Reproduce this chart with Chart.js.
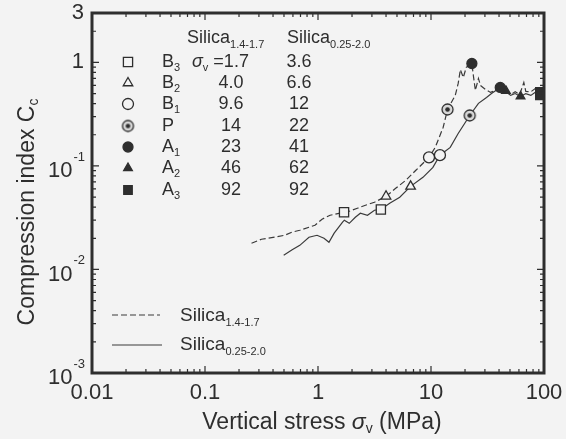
<!DOCTYPE html>
<html>
<head>
<meta charset="utf-8">
<title>Compression index</title>
<script src="https://cdn.jsdelivr.net/npm/chart.js"></script>
<style>
  body { margin: 0; background: #f3f3f3; }
  #wrap { width: 566px; height: 439px; }
</style>
</head>
<body>
<div id="wrap"><canvas id="myChart" width="566" height="439"></canvas></div>
<script>
// Silica 1.4-1.7 (dashed curve)
const dashStress = [0.258, 0.316, 0.413, 0.507, 0.586, 0.69, 0.832, 0.94, 1.086, 1.28, 1.7, 1.89, 2.23, 2.63, 3.16, 4.0, 4.87, 5.98, 7.35, 9.6, 10.9, 12.8, 14, 16.4, 17.4, 18.2, 19.3, 20.5, 23, 23.7, 24.7, 26.3, 27.4, 30.3, 33.6, 37.3, 46, 50.7, 55.6, 61, 66.3, 69, 76.5, 84.9, 92, 100];
const dashCc = [0.0179, 0.0196, 0.0205, 0.0214, 0.0229, 0.0239, 0.0256, 0.0267, 0.0306, 0.0334, 0.0357, 0.0365, 0.039, 0.0417, 0.0446, 0.0509, 0.0608, 0.0726, 0.0908, 0.121, 0.151, 0.235, 0.351, 0.48, 0.627, 0.853, 0.714, 0.893, 0.976, 0.748, 0.536, 0.70, 0.598, 0.548, 0.513, 0.536, 0.53, 0.49, 0.52, 0.49, 0.64, 0.525, 0.52, 0.565, 0.52, 0.53];

// Silica 0.25-2.0 (solid curve)
const solidStress = [0.497, 0.586, 0.69, 0.832, 0.98, 1.13, 1.25, 1.39, 1.65, 1.71, 1.89, 2.14, 2.37, 2.74, 3.16, 3.6, 4.31, 5.29, 6.6, 8.49, 10.4, 12, 14.8, 17.4, 20.1, 22, 26.3, 31.0, 34.3, 41, 46, 50.7, 55.6, 62, 69, 76.5, 85, 92, 100];
const solidCc = [0.0137, 0.0154, 0.0171, 0.0205, 0.0214, 0.0200, 0.0183, 0.0224, 0.0286, 0.0299, 0.0279, 0.0319, 0.0349, 0.0334, 0.0373, 0.038, 0.0435, 0.0498, 0.0635, 0.0776, 0.0968, 0.127, 0.151, 0.206, 0.263, 0.307, 0.402, 0.459, 0.501, 0.573, 0.52, 0.48, 0.50, 0.469, 0.50, 0.48, 0.52, 0.48, 0.50];

// sampling points B3 .. A3
const pointLetters = ['B', 'B', 'B', 'P', 'A', 'A', 'A'];
const pointSubs = ['3', '2', '1', '', '1', '2', '3'];
const markStressDash = [1.7, 4.0, 9.6, 14, 23, 46, 92];
const markCcDash = [0.0357, 0.0509, 0.121, 0.351, 0.976, 0.53, 0.52];
const markStressSolid = [3.6, 6.6, 12, 22, 41, 62, 92];
const markCcSolid = [0.038, 0.0635, 0.127, 0.307, 0.573, 0.469, 0.48];
const col1Labels = ['1.7', '4.0', '9.6', '14', '23', '46', '92'];
const col2Labels = ['3.6', '6.6', '12', '22', '41', '62', '92'];

const xTicks = [0.01, 0.1, 1, 10, 100];
const xTickLabels = ['0.01', '0.1', '1', '10', '100'];
const yTicks = [0.001, 0.01, 0.1, 1, 3];
const yTickLabels = [['10', '-3'], ['10', '-2'], ['10', '-1'], ['1', ''], ['3', '']];

const ink = '#2e2e2e';
const FF = '"Liberation Sans", Arial, sans-serif';

// bullseye marker for P
function bullseye(r) {
  const c = document.createElement('canvas');
  const s = 2 * r + 4;
  c.width = s; c.height = s;
  const g = c.getContext('2d');
  g.beginPath(); g.arc(s / 2, s / 2, r, 0, Math.PI * 2);
  g.fillStyle = '#d8d8d8'; g.fill();
  g.lineWidth = 1.3; g.strokeStyle = ink; g.stroke();
  g.beginPath(); g.arc(s / 2, s / 2, r * 0.42, 0, Math.PI * 2);
  g.fillStyle = ink; g.fill();
  return c;
}
const markStyles = [
  { style: 'rect', fill: false, r: 6.5 },
  { style: 'triangle', fill: false, r: 5.5 },
  { style: 'circle', fill: false, r: 5.5 },
  { style: bullseye(5.5), fill: false, r: 5.5 },
  { style: 'circle', fill: true, r: 5 },
  { style: 'triangle', fill: true, r: 5 },
  { style: 'rect', fill: true, r: 6 }
];

function toPts(xs, ys) { return xs.map((v, i) => ({ x: v, y: ys[i] })); }

const datasets = [];
markStyles.forEach((m, i) => {
  datasets.push({
    type: 'scatter',
    data: [{ x: markStressDash[i], y: markCcDash[i] }, { x: markStressSolid[i], y: markCcSolid[i] }],
    pointStyle: m.style,
    pointRadius: m.r,
    pointBorderWidth: 1.3,
    pointBorderColor: ink,
    pointBackgroundColor: m.fill ? ink : '#f3f3f3',
    order: 0
  });
});
datasets.push({
  data: toPts(dashStress, dashCc),
  borderColor: '#3a3a3a', borderWidth: 1.2, borderDash: [6, 3],
  pointRadius: 0, tension: 0, order: 1
});
datasets.push({
  data: toPts(solidStress, solidCc),
  borderColor: '#3a3a3a', borderWidth: 1.2,
  pointRadius: 0, tension: 0, order: 1
});

// draw text made of pieces (normal / sub / superscript)
function run(ctx, parts, x, y, align) {
  let w = 0;
  parts.forEach(p => { ctx.font = p.f; p.w = ctx.measureText(p.t).width; w += p.w; });
  let cx = align === 'center' ? x - w / 2 : align === 'right' ? x - w : x;
  ctx.textAlign = 'left';
  ctx.textBaseline = 'middle';
  parts.forEach(p => { ctx.font = p.f; ctx.fillText(p.t, cx, y + (p.dy || 0)); cx += p.w; });
}

const axisDeco = {
  id: 'axisDeco',
  beforeDraw(chart) {
    const ctx = chart.ctx;
    ctx.save();
    ctx.fillStyle = '#f3f3f3';
    ctx.fillRect(0, 0, chart.width, chart.height);
    ctx.restore();
  },
  afterDraw(chart) {
    const { ctx, chartArea: a, scales: { x, y } } = chart;
    ctx.save();
    ctx.strokeStyle = ink;
    ctx.fillStyle = ink;
    ctx.lineWidth = 1.2;
    // minor / major ticks, pointing inward on all sides
    ctx.beginPath();
    [0.01, 0.1, 1, 10].forEach(d => {
      for (let k = 1; k < 10; k++) {
        const px = x.getPixelForValue(d * k);
        const len = k === 1 ? 7 : 4;
        ctx.moveTo(px, a.bottom); ctx.lineTo(px, a.bottom - len);
        ctx.moveTo(px, a.top); ctx.lineTo(px, a.top + len);
      }
    });
    [0.001, 0.01, 0.1, 1].forEach(d => {
      for (let k = 1; k < 10; k++) {
        if (d * k > 3) break;
        const py = y.getPixelForValue(d * k);
        const len = k === 1 ? 7 : 4;
        ctx.moveTo(a.left, py); ctx.lineTo(a.left + len, py);
        ctx.moveTo(a.right, py); ctx.lineTo(a.right - len, py);
      }
    });
    ctx.stroke();

    ctx.lineWidth = 3;
    ctx.strokeRect(a.left, a.top, a.right - a.left, a.bottom - a.top);

    // tick labels
    xTicks.forEach((v, i) => {
      run(ctx, [{ t: xTickLabels[i], f: '22px ' + FF }], x.getPixelForValue(v), a.bottom + 20, 'center');
    });
    yTicks.forEach((v, i) => {
      const py = y.getPixelForValue(v);
      const [base, exp] = yTickLabels[i];
      if (exp) {
        ctx.font = '13px ' + FF;
        const ew = ctx.measureText(exp).width;
        run(ctx, [{ t: exp, f: '13px ' + FF }], a.left - 7, py - 9, 'right');
        run(ctx, [{ t: base, f: '22px ' + FF }], a.left - 8 - ew, py + 5, 'right');
      } else {
        run(ctx, [{ t: base, f: '22px ' + FF }], a.left - 8, py, 'right');
      }
    });

    // axis titles
    run(ctx, [
      { t: 'Vertical stress ', f: '23px ' + FF },
      { t: 'σ', f: 'italic 23px ' + FF },
      { t: 'v', f: '14px ' + FF, dy: 6 },
      { t: ' (MPa)', f: '23px ' + FF }
    ], 322, 423, 'center');
    ctx.save();
    ctx.translate(28, 212);
    ctx.rotate(-Math.PI / 2);
    run(ctx, [{ t: 'Compression index C', f: '23px ' + FF }, { t: 'c', f: '14px ' + FF, dy: 6 }], 0, 0, 'center');
    ctx.restore();

    // table of sampling points
    const tf = '18px ' + FF, sf = '11px ' + FF;
    run(ctx, [{ t: 'Silica', f: tf }, { t: '1.4-1.7', f: sf, dy: 7 }], 187, 38, 'left');
    run(ctx, [{ t: 'Silica', f: tf }, { t: '0.25-2.0', f: sf, dy: 7 }], 287, 38, 'left');
    const rowY = [62, 83, 104, 126, 147, 168, 190];
    markStyles.forEach((m, i) => {
      ctx.lineWidth = 1.3;
      ctx.fillStyle = m.fill ? ink : '#f3f3f3';
      Chart.helpers.drawPoint(ctx, { pointStyle: m.style, radius: m.r, borderWidth: 1.3, rotation: 0 }, 128, rowY[i]);
      ctx.fillStyle = ink;
      run(ctx, [{ t: pointLetters[i], f: tf }, { t: pointSubs[i], f: sf, dy: 6 }], 162, rowY[i], 'left');
      if (i === 0) {
        run(ctx, [{ t: 'σ', f: 'italic ' + tf }, { t: 'v', f: sf, dy: 6 }, { t: ' =' + col1Labels[i], f: tf }], 192, rowY[i], 'left');
      } else {
        run(ctx, [{ t: col1Labels[i], f: tf }], 231, rowY[i], 'center');
      }
      run(ctx, [{ t: col2Labels[i], f: tf }], 299, rowY[i], 'center');
    });

    // line legend
    ctx.lineWidth = 1.2;
    ctx.strokeStyle = '#3a3a3a';
    ctx.setLineDash([6, 3]);
    ctx.beginPath(); ctx.moveTo(112, 315); ctx.lineTo(160, 315); ctx.stroke();
    ctx.setLineDash([]);
    ctx.beginPath(); ctx.moveTo(112, 345); ctx.lineTo(162, 345); ctx.stroke();
    run(ctx, [{ t: 'Silica', f: '19px ' + FF }, { t: '1.4-1.7', f: sf, dy: 7 }], 180, 316, 'left');
    run(ctx, [{ t: 'Silica', f: '19px ' + FF }, { t: '0.25-2.0', f: sf, dy: 7 }], 180, 345, 'left');
    ctx.restore();
  }
};

new Chart(document.getElementById('myChart'), {
  type: 'line',
  data: { datasets: datasets },
  options: {
    responsive: false,
    animation: false,
    devicePixelRatio: 1,
    layout: { padding: { left: 92, right: 22, top: 13, bottom: 66 } },
    plugins: { legend: { display: false }, tooltip: { enabled: false } },
    scales: {
      x: { type: 'logarithmic', min: 0.01, max: 100, display: false },
      y: { type: 'logarithmic', min: 0.001, max: 3, display: false }
    }
  },
  plugins: [axisDeco]
});
</script>
</body>
</html>
